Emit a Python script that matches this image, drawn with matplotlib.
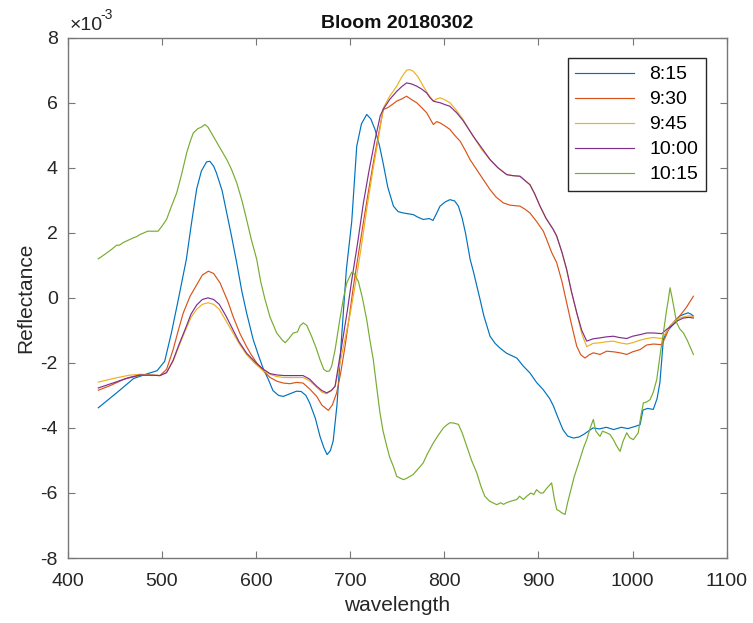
import numpy as np
import matplotlib
matplotlib.use("Agg")
import matplotlib.pyplot as plt
from matplotlib.ticker import ScalarFormatter

# reflectance values are in units of 1e-3
wl_815 = [432.5, 452, 470, 485, 495, 503, 510, 517.5, 526, 531, 537, 542, 547.5, 551, 555, 558, 564, 569,
          574, 579.5, 585, 590, 597, 603, 608, 613, 618, 624, 629, 636, 643, 648, 653, 657, 663, 668, 672,
          675.5, 679, 682, 686, 691, 696, 701.7, 707, 712, 717.6, 722, 726.4, 731, 735, 740, 746, 751,
          756.5, 767, 772, 777.7, 784, 788, 791, 795.5, 801, 806, 811, 815, 819, 822.5, 827.5, 831, 838,
          842, 848.6, 854, 859, 866, 877, 884, 891, 898, 905, 912, 916, 921, 926, 931, 937, 943, 948, 953,
          958, 965, 972, 980, 988, 995, 1003, 1008, 1011, 1016, 1022, 1026, 1029, 1032.7, 1036, 1041.6,
          1046, 1050, 1055, 1059, 1062, 1064.6]
r_815 = [-3.38, -2.92, -2.48, -2.33, -2.24, -1.95, -1.1, -0.05, 1.18, 2.2, 3.35, 3.9, 4.18, 4.2, 4.05, 3.84,
         3.3, 2.6, 1.9, 1.08, 0.2, -0.46, -1.28, -1.8, -2.2, -2.5, -2.85, -3.0, -3.03, -2.95, -2.87, -2.88,
         -3.0, -3.23, -3.7, -4.26, -4.6, -4.82, -4.7, -4.4, -3.3, -1.18, 0.87, 2.35, 4.66, 5.35, 5.64, 5.5,
         5.18, 4.7, 4.15, 3.4, 2.82, 2.65, 2.61, 2.56, 2.48, 2.41, 2.44, 2.38, 2.55, 2.82, 2.95, 3.02, 2.98,
         2.82, 2.45, 2.0, 1.18, 0.8, -0.05, -0.55, -1.18, -1.4, -1.54, -1.7, -1.85, -2.1, -2.31, -2.6,
         -2.82, -3.1, -3.33, -3.7, -4.05, -4.25, -4.31, -4.28, -4.2, -4.1, -4.0, -4.03, -3.98, -4.05,
         -3.98, -4.02, -3.95, -3.9, -3.45, -3.4, -3.43, -3.1, -2.61, -1.28, -1.05, -0.87, -0.7, -0.56,
         -0.5, -0.46, -0.5, -0.56]

wl_930 = [432.5, 445, 460, 477, 490, 498, 505, 512, 517, 522.8, 530, 537, 543, 549.4, 555, 561.8, 570, 576,
          583, 590, 595, 600.8, 608, 615, 622, 629, 636, 643, 650, 657, 664.5, 670, 676.8, 681, 685.7, 690,
          694.6, 699, 703.5, 708, 714, 719, 724.6, 730, 735.2, 740, 745, 749.5, 755, 760, 765, 770.7, 776,
          781.3, 785, 788.4, 792, 795.5, 800, 806, 811, 816.8, 822, 827.4, 830.8, 840, 848.6, 855, 862.7,
          870, 880.4, 886, 891, 898, 905.2, 908.8, 914, 919.4, 925, 930, 935, 940.7, 945, 949.5, 954, 958.3,
          965.4, 972.5, 980, 986.7, 993.8, 1000, 1008, 1015, 1022, 1031, 1035, 1039.8, 1045, 1050, 1057,
          1064.6]
r_930 = [-2.84, -2.7, -2.5, -2.38, -2.38, -2.39, -2.2, -1.59, -1.05, -0.46, 0.05, 0.4, 0.7, 0.82, 0.75, 0.46,
         -0.1, -0.6, -1.1, -1.5, -1.75, -2.0, -2.25, -2.45, -2.56, -2.62, -2.64, -2.6, -2.62, -2.8, -3.03,
         -3.3, -3.46, -3.3, -2.92, -2.3, -1.49, -0.6, 0.36, 1.2, 2.31, 3.2, 4.15, 5.0, 5.79, 5.85, 5.95, 6.05,
         6.12, 6.2, 6.1, 6.0, 5.85, 5.69, 5.5, 5.33, 5.42, 5.38, 5.3, 5.18, 5.0, 4.82, 4.55, 4.25, 4.1, 3.7,
         3.33, 3.1, 2.92, 2.85, 2.82, 2.72, 2.61, 2.35, 2.05, 1.79, 1.4, 1.08, 0.5, -0.15, -0.8, -1.49,
         -1.75, -1.85, -1.75, -1.69, -1.74, -1.64, -1.66, -1.69, -1.74, -1.66, -1.59, -1.45, -1.42, -1.44,
         -1.2, -0.87, -0.7, -0.56, -0.3, 0.05]

wl_945 = [432.5, 450, 465, 477, 490, 498, 505, 512, 518, 525, 531, 537, 543, 549, 555, 561, 568, 575, 582,
          590, 600, 608, 615, 622, 630, 640, 650, 657, 664.5, 670, 675, 680, 684, 690, 695, 700, 706, 712,
          718, 724, 730, 735.2, 742, 749.5, 755, 760, 763, 767, 772, 777.7, 783, 788.4, 792, 795.5, 800,
          806, 812, 820, 830, 840, 848.6, 857, 866.3, 875, 880.4, 886, 891, 896, 901.7, 908, 915.8, 919.4,
          925, 930, 935, 940.7, 946, 951.3, 958, 965.4, 972, 979.6, 986, 993.8, 1000, 1008, 1015, 1022,
          1031, 1036, 1040, 1045, 1050, 1055, 1060, 1064.6]
r_945 = [-2.59, -2.47, -2.38, -2.35, -2.37, -2.39, -2.3, -1.95, -1.5, -1.0, -0.6, -0.35, -0.2, -0.15, -0.2,
         -0.35, -0.7, -1.05, -1.4, -1.75, -2.05, -2.25, -2.35, -2.42, -2.45, -2.45, -2.45, -2.55, -2.75,
         -2.9, -2.95, -2.85, -2.72, -1.9, -1.2, -0.5, 0.5, 1.6, 2.8, 3.9, 4.9, 5.84, 6.2, 6.51, 6.8, 7.0,
         7.02, 6.97, 6.8, 6.51, 6.25, 6.05, 6.12, 6.15, 6.1, 6.0, 5.8, 5.48, 5.0, 4.55, 4.25, 4.0, 3.79,
         3.75, 3.74, 3.6, 3.48, 3.2, 2.82, 2.45, 2.1, 1.9, 1.4, 0.87, 0.2, -0.46, -1.1, -1.5, -1.4, -1.38,
         -1.35, -1.33, -1.38, -1.42, -1.38, -1.3, -1.25, -1.22, -1.25, -1.05, -0.85, -0.72, -0.62, -0.58,
         -0.55, -0.58]

wl_1000 = [432.5, 450, 465, 477, 490, 498, 505, 512, 518, 525, 531, 537, 543, 549, 555, 561, 568, 575, 582,
           590, 600, 608, 615, 622, 630, 639.6, 650, 657, 664.5, 670, 675, 680, 684, 688, 692.7, 697, 702,
           708, 714, 720, 726, 732, 735.2, 742, 749.5, 755, 760, 765, 770.7, 776, 781.3, 785, 788.4, 792,
           795.5, 800, 806, 813.2, 820, 830.8, 840, 848.6, 857, 866.3, 872, 880.4, 886, 891, 896, 901.7,
           908, 915.8, 919.4, 925, 930, 935, 940.7, 946, 951.3, 958, 965.4, 972, 979.6, 986, 993.8, 1000,
           1008, 1015, 1022, 1031, 1037, 1043.3, 1048, 1054, 1060, 1064.6]
r_1000 = [-2.77, -2.6, -2.45, -2.37, -2.38, -2.39, -2.3, -1.92, -1.45, -0.95, -0.5, -0.22, -0.05, 0.0,
          -0.05, -0.2, -0.55, -0.95, -1.35, -1.7, -2.0, -2.2, -2.33, -2.37, -2.39, -2.39, -2.39, -2.5, -2.72,
          -2.85, -2.92, -2.85, -2.72, -2.0, -1.18, -0.4, 0.6, 1.7, 2.9, 3.9, 4.8, 5.6, 5.8, 6.1, 6.35, 6.5,
          6.61, 6.58, 6.51, 6.42, 6.3, 6.15, 6.05, 6.02, 6.0, 5.95, 5.89, 5.69, 5.45, 4.97, 4.6, 4.25, 4.0,
          3.79, 3.76, 3.74, 3.6, 3.48, 3.2, 2.82, 2.45, 2.1, 1.9, 1.4, 0.87, 0.2, -0.46, -1.0, -1.33,
          -1.26, -1.23, -1.2, -1.18, -1.22, -1.25, -1.18, -1.13, -1.08, -1.08, -1.1, -0.95, -0.82, -0.7,
          -0.62, -0.6, -0.62]

wl_1015 = [432.5, 440, 447, 452, 455, 459, 465, 470, 473, 477, 481, 485, 490, 496, 500, 505, 510, 515.8,
           521, 526.4, 530, 533.4, 538, 542, 545.8, 549, 552, 556.5, 562, 569, 574, 579.5, 585, 590, 595,
           600.8, 605, 609.6, 615, 622, 628, 631, 635, 639.6, 644, 647, 650.3, 654, 659, 664, 668, 672, 675,
           678, 680.4, 684, 689, 693, 696.4, 701.7, 704, 708.7, 713, 717.6, 721, 724.6, 728, 731.7, 735,
           738.9, 742, 745.9, 749.5, 753, 756.5, 760, 763, 767, 771, 774, 777.7, 782, 788.4, 793, 799, 803,
           806, 810, 815, 819, 823.8, 829, 834.5, 839, 843, 848, 855.7, 860, 863, 866, 871, 877, 880, 884,
           887.6, 892, 895, 898, 902, 905, 909, 914, 917, 919.5, 922, 924.8, 928.3, 931, 933.6, 938, 944,
           948, 951.3, 955, 958.3, 961, 965.4, 968, 972.5, 976, 979.6, 983, 986.7, 990, 993.8, 997, 1000.8,
           1006, 1009, 1011.5, 1015, 1018.6, 1022, 1025.7, 1029, 1032.7, 1036, 1038, 1039.8, 1042, 1046.9,
           1050, 1054, 1058, 1061, 1064.6]
r_1015 = [1.2, 1.35, 1.5, 1.62, 1.62, 1.7, 1.78, 1.85, 1.88, 1.95, 2.0, 2.05, 2.05, 2.05, 2.2, 2.41, 2.8,
          3.23, 3.8, 4.46, 4.8, 5.07, 5.2, 5.25, 5.33, 5.25, 5.1, 4.87, 4.6, 4.25, 3.95, 3.54, 3.0, 2.41,
          1.8, 1.18, 0.5, -0.05, -0.6, -1.08, -1.3, -1.38, -1.25, -1.08, -1.05, -0.85, -0.77, -0.85, -1.18,
          -1.55, -1.9, -2.2, -2.26, -2.25, -2.1, -1.6, -0.67, 0.0, 0.46, 0.79, 0.75, 0.51, 0.0, -0.67, -1.3,
          -1.9, -2.7, -3.54, -4.1, -4.56, -4.9, -5.18, -5.49, -5.54, -5.59, -5.55, -5.5, -5.43, -5.3, -5.2,
          -5.07, -4.8, -4.46, -4.25, -4.0, -3.9, -3.84, -3.85, -3.89, -4.15, -4.56, -5.0, -5.38, -5.8, -6.1,
          -6.25, -6.36, -6.3, -6.35, -6.3, -6.25, -6.2, -6.1, -6.2, -6.1, -6.0, -6.05, -5.9, -6.0, -6.0,
          -5.85, -5.69, -6.2, -6.51, -6.55, -6.61, -6.66, -6.3, -6.0, -5.5, -4.97, -4.6, -4.36, -4.0, -3.74,
          -4.1, -4.26, -4.1, -4.15, -4.2, -4.36, -4.55, -4.72, -4.4, -4.15, -4.3, -4.36, -4.15, -3.6, -3.23,
          -3.2, -3.13, -2.9, -2.51, -1.8, -1.08, -0.4, -0.05, 0.31, 0.0, -0.77, -0.95, -1.08, -1.3, -1.5,
          -1.74]

labels = ["8:15", "9:30", "9:45", "10:00", "10:15"]
colors = ["#0072BD", "#D95319", "#EDB120", "#7E2F8E", "#77AC30"]

plt.rcParams["font.family"] = ["Liberation Sans", "DejaVu Sans"]
plt.rcParams["axes.unicode_minus"] = False

fig = plt.figure(figsize=(7.53, 6.23), dpi=100)
ax = fig.add_axes([0.0899, 0.1043, 0.8752, 0.8352])

series = [(wl_815, r_815), (wl_930, r_930), (wl_945, r_945), (wl_1000, r_1000), (wl_1015, r_1015)]
for (wl, r), lab, c in zip(series, labels, colors):
    ax.plot(wl, np.array(r) * 1e-3, color=c, lw=0.85, label=lab)

ax.set_xlim(400, 1100)
ax.set_ylim(-8e-3, 8e-3)
ax.set_xticks(range(400, 1101, 100))
ax.set_yticks(np.arange(-8, 9, 2) * 1e-3)
fmt = ScalarFormatter()
fmt.set_powerlimits((-3, -3))
ax.yaxis.set_major_formatter(fmt)
# draw the exponent label by hand (MATLAB style)
ax.yaxis.get_offset_text().set_visible(False)
ax.text(0.003, 1.008, "\u00d710", transform=ax.transAxes, fontsize=14, color="#262626",
        ha="left", va="bottom")
ax.text(0.049, 1.03, "-3", transform=ax.transAxes, fontsize=10, color="#262626",
        ha="left", va="bottom")

ax.tick_params(direction="in", top=True, right=True, length=5, width=0.8,
               color="#777777", labelcolor="#262626", labelsize=14)
ax.tick_params(axis="x", pad=11)
ax.tick_params(axis="y", pad=7)
for s in ax.spines.values():
    s.set_color("#777777")
    s.set_linewidth(1.0)

ax.set_title("Bloom 20180302", fontsize=14, fontweight="bold", color="#111111", pad=7)
ax.set_xlabel("wavelength", fontsize=15, color="#262626", labelpad=4)
ax.set_ylabel("Reflectance", fontsize=15, color="#262626", labelpad=4)

leg = ax.legend(loc="upper right", bbox_to_anchor=(0.9686, 0.961), borderaxespad=0,
                fontsize=14, handlelength=3.0, labelspacing=0.38, fancybox=False,
                edgecolor="#262626", framealpha=1)
leg.get_frame().set_linewidth(1.0)

fig.savefig("out.png", dpi=100)
